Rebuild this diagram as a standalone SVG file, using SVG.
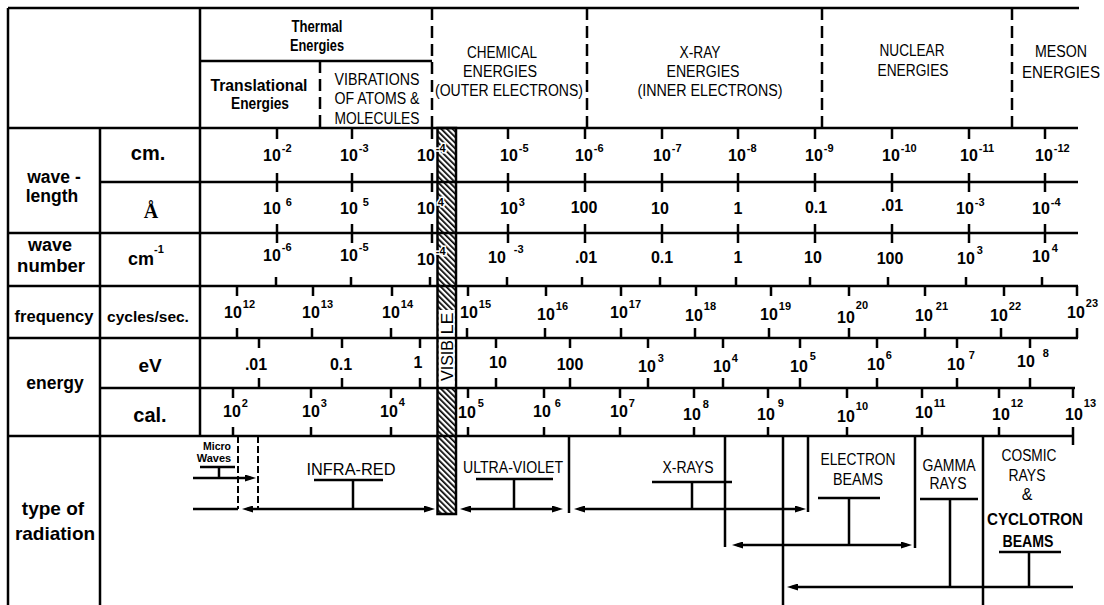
<svg xmlns="http://www.w3.org/2000/svg" width="1104" height="605" viewBox="0 0 1104 605">
<style>
.ln{stroke:#000;stroke-width:2.5;fill:none}
.dash{stroke-dasharray:12 6}
.thin{stroke-width:2;stroke-dasharray:7 3}
.tk{stroke:#000;stroke-width:2.5;fill:none}
text{font-family:"Liberation Sans",Arial,sans-serif;fill:#000}
.b{font-weight:bold}
.n{font-size:16px;font-weight:bold}
.s{font-size:11px}
.h{font-size:16px}
.lab{font-weight:bold;text-anchor:middle}
.m{text-anchor:middle}
.halo{stroke:#fff;stroke-width:3;paint-order:stroke}
</style>
<defs>
<pattern id="hatch" patternUnits="userSpaceOnUse" width="4" height="4" patternTransform="rotate(-45)">
<rect width="4" height="4" fill="#fff"/><rect width="1.7" height="4" fill="#000"/>
</pattern>
<marker id="ah" viewBox="0 0 11 7" refX="6" refY="3.5" markerWidth="11" markerHeight="7" markerUnits="userSpaceOnUse" orient="auto-start-reverse">
<path d="M0 0L11 3.5L0 7z" fill="#000"/>
</marker>
</defs>
<rect width="1104" height="605" fill="#fff"/>

<g id="visible-band">
<rect x="437.5" y="128" width="18.5" height="386" fill="url(#hatch)" stroke="#000" stroke-width="2.5"/>
<rect x="438.8" y="310" width="16" height="77" fill="#fff"/>
<text class="h" transform="translate(452.5,360.5) rotate(-90)" text-anchor="middle" font-size="18" textLength="41" lengthAdjust="spacingAndGlyphs">VISIB</text>
<text class="h" transform="translate(452.5,323.5) rotate(-90)" text-anchor="middle" font-size="18" textLength="22" lengthAdjust="spacingAndGlyphs">LE</text>
</g>

<g id="grid">
<path class="ln" d="M8 8H1079M8 8V605M200 8V436M100 128V605M8 128H1078M200 61H432"/>
<path class="ln dash" d="M320 61V128M432 8V128M587 8V128M822 8V128M1012 8V128"/>
<path class="ln" d="M100 182H1078M8 233H1078M8 286H1078M8 338H1078M100 388H1075M8 436H1073"/>
</g>

<g id="header">
<text class="h b m" x="317" y="32" font-size="17" textLength="51" lengthAdjust="spacingAndGlyphs">Thermal</text>
<text class="h b m" x="317" y="51" font-size="17" textLength="54" lengthAdjust="spacingAndGlyphs">Energies</text>
<text class="h b m" x="259" y="91" font-size="17" textLength="97" lengthAdjust="spacingAndGlyphs">Translational</text>
<text class="h b m" x="260" y="109" font-size="17" textLength="58" lengthAdjust="spacingAndGlyphs">Energies</text>
<text class="h m" x="377" y="85" textLength="85" lengthAdjust="spacingAndGlyphs">VIBRATIONS</text>
<text class="h m" x="377" y="104" textLength="85" lengthAdjust="spacingAndGlyphs">OF ATOMS &amp;</text>
<text class="h m" x="377" y="124" textLength="85" lengthAdjust="spacingAndGlyphs">MOLECULES</text>
<text class="h m" x="502" y="58" textLength="70" lengthAdjust="spacingAndGlyphs">CHEMICAL</text>
<text class="h m" x="500" y="77" textLength="74" lengthAdjust="spacingAndGlyphs">ENERGIES</text>
<text class="h m" x="509" y="96" textLength="148" lengthAdjust="spacingAndGlyphs">(OUTER ELECTRONS)</text>
<text class="h m" x="700" y="58" textLength="41" lengthAdjust="spacingAndGlyphs">X-RAY</text>
<text class="h m" x="703" y="77" textLength="73" lengthAdjust="spacingAndGlyphs">ENERGIES</text>
<text class="h m" x="710" y="96" textLength="145" lengthAdjust="spacingAndGlyphs">(INNER ELECTRONS)</text>
<text class="h m" x="912" y="56" textLength="65" lengthAdjust="spacingAndGlyphs">NUCLEAR</text>
<text class="h m" x="913" y="76" textLength="71" lengthAdjust="spacingAndGlyphs">ENERGIES</text>
<text class="h m" x="1061" y="57" textLength="52" lengthAdjust="spacingAndGlyphs">MESON</text>
<text class="h m" x="1061" y="78" textLength="78" lengthAdjust="spacingAndGlyphs">ENERGIES</text>
</g>

<g id="row-labels">
<text class="lab" x="54" y="183" font-size="17.5">wave -</text>
<text class="lab" x="52" y="202" font-size="17.5">length</text>
<text class="lab" x="148" y="160" font-size="20">cm.</text>
<text x="151" y="218" font-size="20" font-weight="bold" text-anchor="middle" style="font-family:'Liberation Serif','Times New Roman',serif">Å</text>
<text class="lab" x="50" y="251" font-size="18">wave</text>
<text class="lab" x="51" y="272" font-size="18.5">number</text>
<text class="b" x="128" y="265" font-size="18">cm<tspan class="s" dy="-12">-1</tspan></text>
<text class="lab" x="54" y="322" font-size="16.5">frequency</text>
<text class="lab" x="148" y="322" font-size="15.5">cycles/sec.</text>
<text class="lab" x="55" y="389" font-size="17.5">energy</text>
<text class="lab" x="150" y="372" font-size="19">eV</text>
<text class="lab" x="150" y="422" font-size="20">cal.</text>
<text class="lab" x="53" y="515" font-size="19">type of</text>
<text class="lab" x="55" y="540" font-size="19">radiation</text>
</g>

<g id="ticks">
<path class="tk" d="M277 128V139M352 128V139M432 128V139M508 128V139M585 128V139M662 128V139M738 128V139M815 128V139M892 128V139M969 128V139M1045 128V139
M277 173V192M352 173V192M432 173V192M508 173V192M585 173V192M662 173V192M738 173V192M815 173V192M892 173V192M969 173V192M1045 173V192
M277 224V243M352 224V243M432 224V243M508 224V243M585 224V243M662 224V243M738 224V243M815 224V243M892 224V243M969 224V243M1045 224V243
M276 277V286M351 277V286M430 277V286M507 277V286M582 277V286M660 277V286M736 277V286M810 277V286M888 277V286M966 277V286M1042 277V286"/>
<path class="tk" d="M237 286V296M313 286V296M392 286V296M468 286V296M546 286V296M621 286V296M696 286V296M771 286V296M849 286V296M925 286V296M1004 286V296M1077 286V296
M237 328V338M312 328V338M391 328V338M467 328V338M545 328V338M621 328V338M695 328V338M769 328V338M849 328V338M925 328V338M1001 328V338M1077 328V338"/>
<path class="tk" d="M259 338V348M342 338V348M420 338V348M496 338V348M570 338V348M648 338V348M723 338V348M800 338V348M877 338V348M957 338V348M1030 338V348
M259 378V388M342 378V388M420 378V388M496 378V388M570 378V388M648 378V388M723 378V388M800 378V388M877 378V388M957 378V388M1030 378V388"/>
<path class="tk" d="M233 388V398M311 388V398M391 388V398M468 388V398M544 388V398M620 388V398M694 388V398M768 388V398M847 388V398M922 388V398M999 388V398M1073 388V398
M233 427V436M311 427V436M391 427V436M468 427V436M544 427V436M620 427V436M694 427V436M768 427V436M847 427V436M922 427V436M999 427V436M1073 427V445"/>
</g>

<g id="row-cm" class="n">
<text x="263" y="161">10<tspan class="s" dy="-9" dx="1">-2</tspan></text>
<text x="340" y="161">10<tspan class="s" dy="-9" dx="1">-3</tspan></text>
<text x="417" y="161" class="halo">10<tspan class="s" dy="-9" dx="1">-4</tspan></text>
<text x="500" y="161">10<tspan class="s" dy="-9" dx="1">-5</tspan></text>
<text x="575" y="161">10<tspan class="s" dy="-9" dx="1">-6</tspan></text>
<text x="653" y="161">10<tspan class="s" dy="-9" dx="1">-7</tspan></text>
<text x="728" y="161">10<tspan class="s" dy="-9" dx="1">-8</tspan></text>
<text x="805" y="161">10<tspan class="s" dy="-9" dx="1">-9</tspan></text>
<text x="882" y="161">10<tspan class="s" dy="-9" dx="1">-10</tspan></text>
<text x="960" y="161">10<tspan class="s" dy="-9" dx="1">-11</tspan></text>
<text x="1035" y="161">10<tspan class="s" dy="-9" dx="1">-12</tspan></text>
</g>

<g id="row-angstrom" class="n">
<text x="263" y="214">10<tspan class="s" dy="-8" dx="5">6</tspan></text>
<text x="340" y="214">10<tspan class="s" dy="-8" dx="5">5</tspan></text>
<text x="417" y="214" class="halo">10<tspan class="s" dy="-8" dx="3">4</tspan></text>
<text x="500" y="214">10<tspan class="s" dy="-8" dx="1">3</tspan></text>
<text x="584" y="213" class="m">100</text>
<text x="660" y="214" class="m">10</text>
<text x="738" y="214" class="m">1</text>
<text x="816" y="213" class="m">0.1</text>
<text x="892" y="211" class="m">.01</text>
<text x="956" y="214">10<tspan class="s" dy="-8" dx="1">-3</tspan></text>
<text x="1032" y="214">10<tspan class="s" dy="-8" dx="1">-4</tspan></text>
</g>

<g id="row-wavenumber" class="n">
<text x="263" y="261">10<tspan class="s" dy="-10" dx="1">-6</tspan></text>
<text x="340" y="261">10<tspan class="s" dy="-10" dx="1">-5</tspan></text>
<text x="417" y="265" class="halo">10<tspan class="s" dy="-10" dx="1">-4</tspan></text>
<text x="488" y="263">10<tspan class="s" dy="-10" dx="8">-3</tspan></text>
<text x="586" y="263" class="m">.01</text>
<text x="662" y="263" class="m">0.1</text>
<text x="738" y="263" class="m">1</text>
<text x="813" y="263" class="m">10</text>
<text x="890" y="264" class="m">100</text>
<text x="957" y="264">10<tspan class="s" dy="-10" dx="2">3</tspan></text>
<text x="1032" y="262">10<tspan class="s" dy="-10" dx="2">4</tspan></text>
</g>

<g id="row-frequency" class="n">
<text x="224" y="318">10<tspan class="s" dy="-10" dx="1">12</tspan></text>
<text x="302" y="318">10<tspan class="s" dy="-10" dx="1">13</tspan></text>
<text x="382" y="318">10<tspan class="s" dy="-10" dx="1">14</tspan></text>
<text x="460" y="318">10<tspan class="s" dy="-10" dx="1">15</tspan></text>
<text x="537" y="320">10<tspan class="s" dy="-10" dx="1">16</tspan></text>
<text x="610" y="318">10<tspan class="s" dy="-10" dx="1">17</tspan></text>
<text x="685" y="321">10<tspan class="s" dy="-11" dx="1">18</tspan></text>
<text x="760" y="320">10<tspan class="s" dy="-10" dx="1">19</tspan></text>
<text x="837" y="323">10<tspan class="s" dy="-14" dx="1">20</tspan></text>
<text x="915" y="321">10<tspan class="s" dy="-11" dx="3">21</tspan></text>
<text x="990" y="321">10<tspan class="s" dy="-11" dx="1">22</tspan></text>
<text x="1067" y="318">10<tspan class="s" dy="-11" dx="1">23</tspan></text>
</g>

<g id="row-ev" class="n">
<text x="256" y="370" class="m">.01</text>
<text x="341" y="370" class="m">0.1</text>
<text x="418" y="368" class="m">1</text>
<text x="498" y="368" class="m">10</text>
<text x="570" y="370" class="m">100</text>
<text x="638" y="372">10<tspan class="s" dy="-10" dx="2">3</tspan></text>
<text x="713" y="372">10<tspan class="s" dy="-10" dx="1">4</tspan></text>
<text x="790" y="372">10<tspan class="s" dy="-12" dx="2">5</tspan></text>
<text x="867" y="370">10<tspan class="s" dy="-11" dx="1">6</tspan></text>
<text x="947" y="370">10<tspan class="s" dy="-11" dx="4">7</tspan></text>
<text x="1017" y="367">10<tspan class="s" dy="-10" dx="8">8</tspan></text>
</g>

<g id="row-cal" class="n">
<text x="223" y="417">10<tspan class="s" dy="-10" dx="1">2</tspan></text>
<text x="302" y="417">10<tspan class="s" dy="-10" dx="1">3</tspan></text>
<text x="380" y="417">10<tspan class="s" dy="-11" dx="1">4</tspan></text>
<text x="458" y="418">10<tspan class="s" dy="-11" dx="2">5</tspan></text>
<text x="533" y="417">10<tspan class="s" dy="-10" dx="4">6</tspan></text>
<text x="610" y="417">10<tspan class="s" dy="-10" dx="1">7</tspan></text>
<text x="683" y="420">10<tspan class="s" dy="-12" dx="2">8</tspan></text>
<text x="757" y="420">10<tspan class="s" dy="-13" dx="3">9</tspan></text>
<text x="837" y="422">10<tspan class="s" dy="-12" dx="1">10</tspan></text>
<text x="915" y="418">10<tspan class="s" dy="-11" dx="1">11</tspan></text>
<text x="992" y="420">10<tspan class="s" dy="-13" dx="1">12</tspan></text>
<text x="1065" y="420">10<tspan class="s" dy="-13" dx="1">13</tspan></text>
</g>

<g id="connectors">
<path class="ln" d="M193 478H251" marker-end="url(#ah)"/>
<path class="ln" d="M193 509H238"/>
<path class="ln thin" d="M238 436V509M258 436V509"/>
<path class="ln" d="M247 509H430" marker-start="url(#ah)" marker-end="url(#ah)"/>
<path class="ln" d="M465 509H558" marker-start="url(#ah)" marker-end="url(#ah)"/>
<path class="ln" d="M569 436V513"/>
<path class="ln" d="M579 509H801" marker-start="url(#ah)" marker-end="url(#ah)"/>
<path class="ln" d="M808 436V512M725 436V547"/>
<path class="ln" d="M737 545H907" marker-start="url(#ah)" marker-end="url(#ah)"/>
<path class="ln" d="M915 436V548M783 436V605M983 436V605"/>
<path class="ln" d="M792 587H1073" marker-start="url(#ah)"/>
</g>

<g id="microwaves">
<text class="b m" x="217" y="450" font-size="10.5">Micro</text>
<text class="b m" x="214" y="462" font-size="11">Waves</text>
<path class="ln" stroke-width="2" d="M200 467H235M219 467V478"/>
</g>
<g id="infrared">
<text class="h m" x="351" y="475" font-size="17" textLength="89" lengthAdjust="spacingAndGlyphs">INFRA-RED</text>
<path class="ln" d="M314 480H383M353 480V509"/>
</g>
<g id="ultraviolet">
<text class="h m" x="513" y="473" textLength="100" lengthAdjust="spacingAndGlyphs">ULTRA-VIOLET</text>
<path class="ln" d="M476 479H553M514 479V509"/>
</g>
<g id="xrays">
<text class="h m" x="688" y="473" textLength="51" lengthAdjust="spacingAndGlyphs">X-RAYS</text>
<path class="ln" d="M652 482H732M692 482V509"/>
</g>
<g id="electron-beams">
<text class="h m" x="858" y="465" textLength="75" lengthAdjust="spacingAndGlyphs">ELECTRON</text>
<text class="h m" x="858" y="485" textLength="50" lengthAdjust="spacingAndGlyphs">BEAMS</text>
<path class="ln" d="M818 498H880M849 498V545"/>
</g>
<g id="gamma-rays">
<text class="h m" x="949" y="471" textLength="53" lengthAdjust="spacingAndGlyphs">GAMMA</text>
<text class="h m" x="948" y="489" textLength="37" lengthAdjust="spacingAndGlyphs">RAYS</text>
<path class="ln" d="M920 499H978M950 499V587"/>
</g>
<g id="cosmic-rays">
<text class="h m" x="1029" y="461" textLength="55" lengthAdjust="spacingAndGlyphs">COSMIC</text>
<text class="h m" x="1027" y="481" textLength="37" lengthAdjust="spacingAndGlyphs">RAYS</text>
<text class="h m" x="1027" y="500">&amp;</text>
<text class="h b m" x="1035" y="525" textLength="96" lengthAdjust="spacingAndGlyphs">CYCLOTRON</text>
<text class="h b m" x="1028" y="547" textLength="51" lengthAdjust="spacingAndGlyphs">BEAMS</text>
<path class="ln" d="M999 552H1061M1029 552V587"/>
</g>
</svg>
